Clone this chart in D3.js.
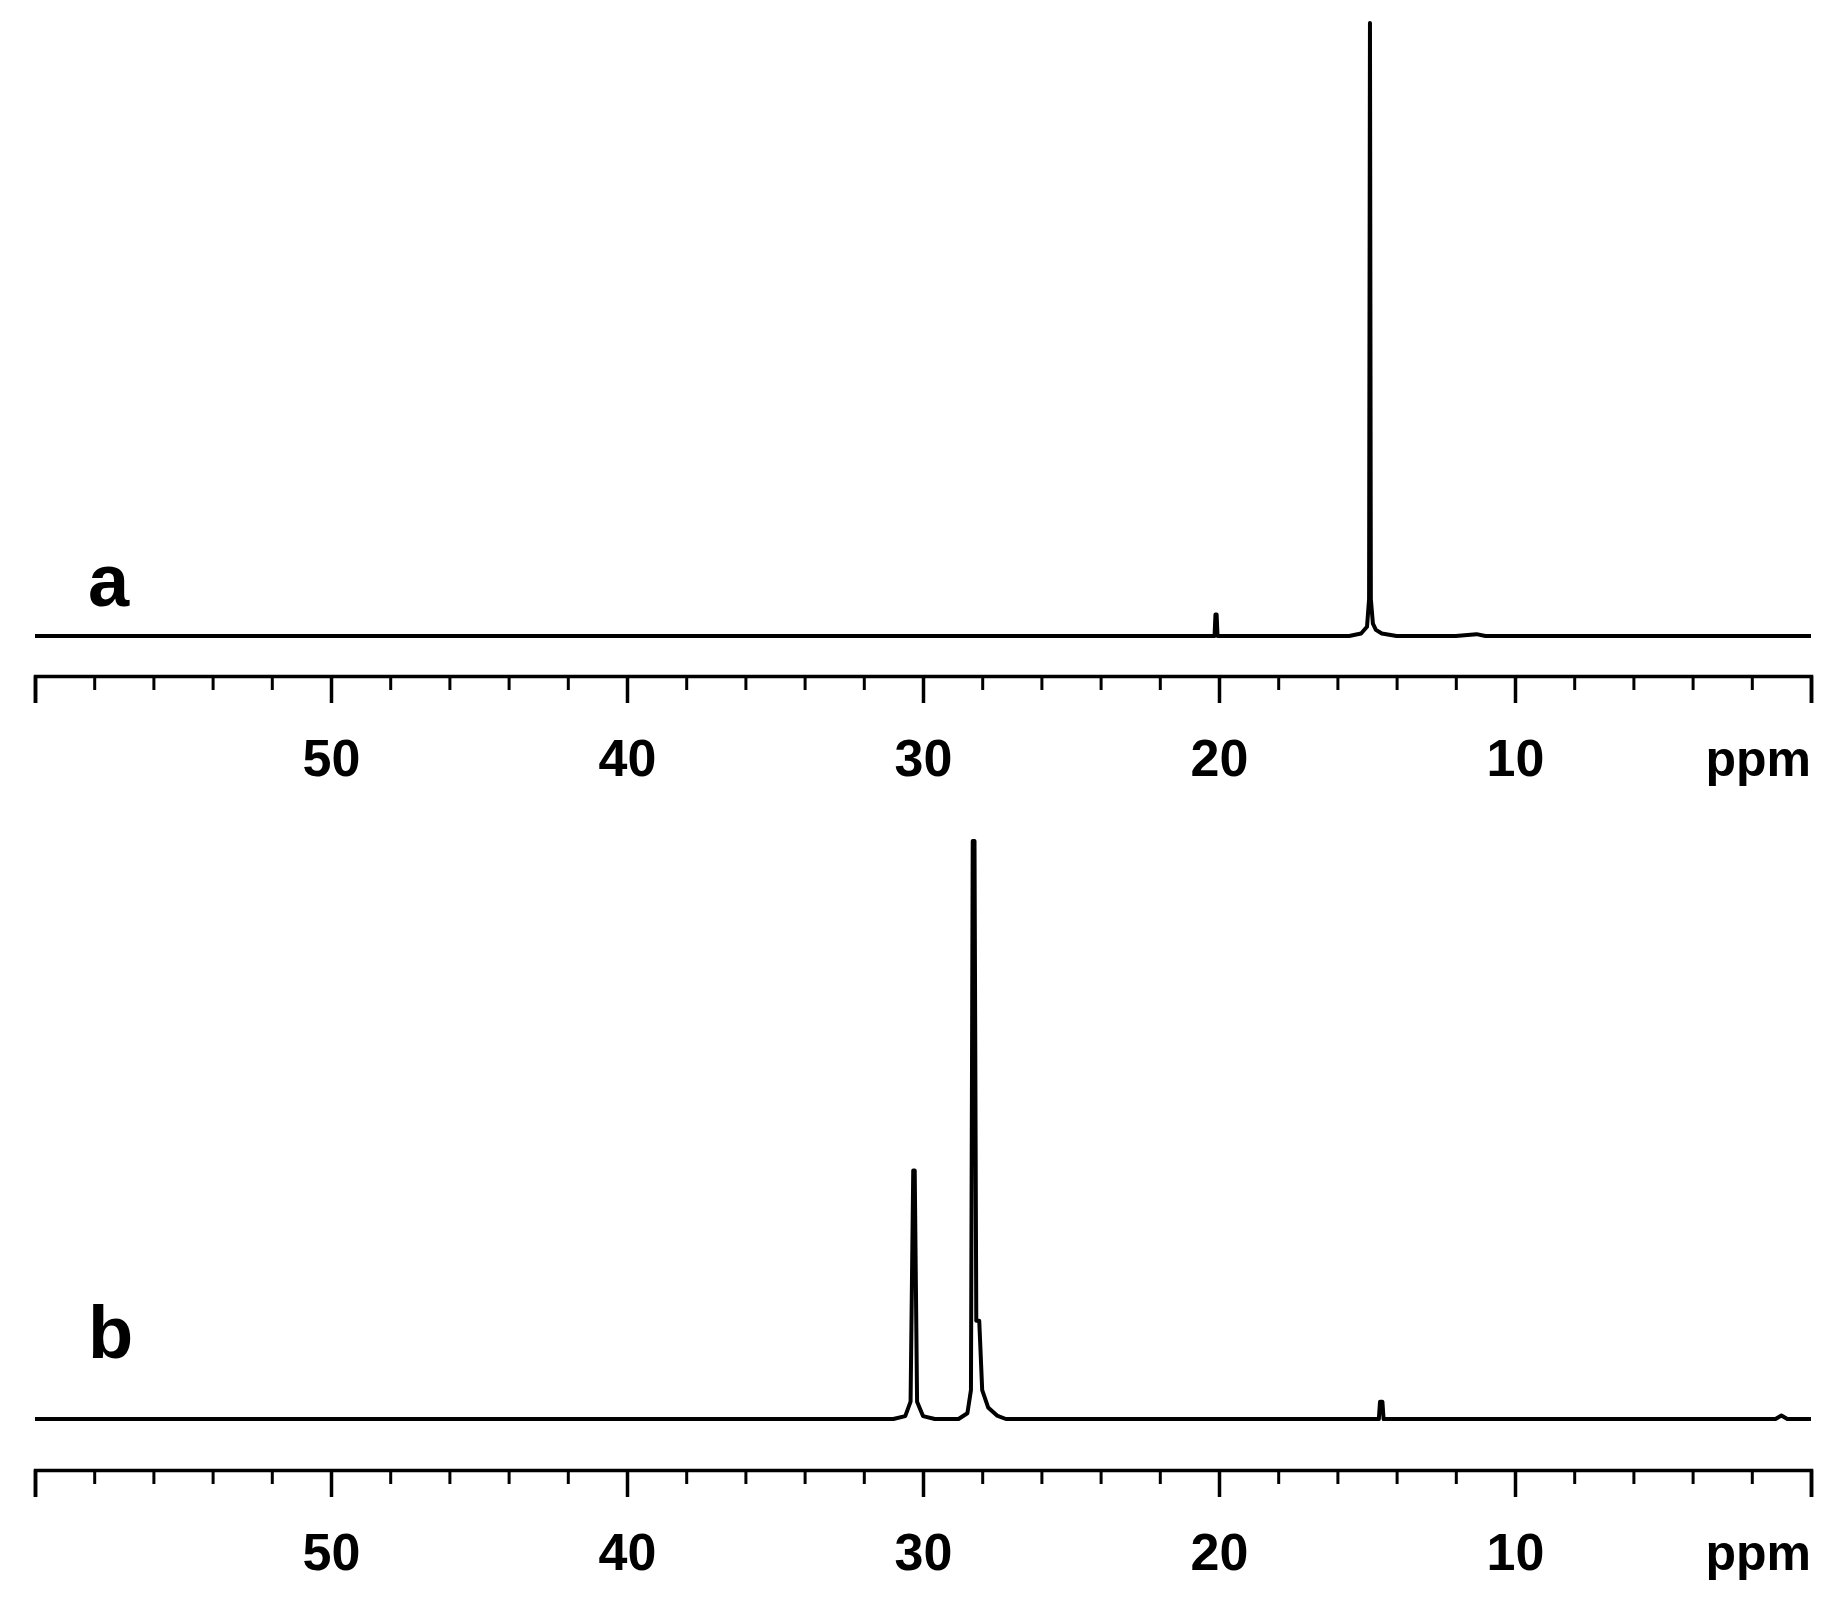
<!DOCTYPE html>
<html><head><meta charset="utf-8">
<script src="https://cdn.jsdelivr.net/npm/d3@7"></script>
<style>body{margin:0;background:#fff}</style></head>
<body><svg id="c" width="1844" height="1619"></svg>
<script>
const panelLabels = ["a","b"];
const majorTicks = [60,50,40,30,20,10,0];
const labeledTicks = [50,40,30,20,10];
const minorTicks = [58,56,54,52,48,46,44,42,38,36,34,32,28,26,24,22,18,16,14,12,8,6,4,2];
const ppmA = [60,20.3,20.15,20.12,20.08,20.05,15.6,15.2,15.0,14.93,14.9,14.87,14.8,14.7,14.5,14.0,12,11.3,11,0];
const intA = [0,0,0,3.5,3.5,0,0,0.4,1.5,6,100,6,2,1,0.4,0,0,0.3,0,0];
const ppmB = [60,31,30.6,30.42,30.33,30.28,30.2,30.0,29.6,28.8,28.5,28.38,28.32,28.26,28.2,28.1,28.0,27.8,27.5,27.2,21,14.6,14.56,14.48,14.44,1.2,1.0,0.8,0];
const intB = [0,0,0.5,3,43,43,3,0.5,0,0,1,5,100,100,17,17,5,2,0.6,0,0,0,3,3,0,0,0.6,0,0];

const svg = d3.select("#c");
const x = d3.scaleLinear().domain([60,0]).range([35,1811]);
const panels = [
  {lab:panelLabels[0], ppm:ppmA, val:intA, base:636, top:23, axisY:676, labY:606},
  {lab:panelLabels[1], ppm:ppmB, val:intB, base:1419, top:841, axisY:1470, labY:1358}
];
const FONT = "Liberation Sans, Arial, sans-serif";
panels.forEach(p=>{
  const y = d3.scaleLinear().domain([0,100]).range([p.base,p.top]);
  const pts = p.ppm.map((v,i)=>[v,p.val[i]]);
  svg.append("path").datum(pts)
    .attr("d", d3.line().x(d=>x(d[0])).y(d=>y(d[1])))
    .attr("fill","none").attr("stroke","#000").attr("stroke-width",4).attr("stroke-linejoin","round");
  const gMin = svg.append("g").attr("transform",`translate(0,${p.axisY})`)
    .call(d3.axisBottom(x).tickValues(minorTicks).tickSize(14).tickSizeOuter(0).tickFormat(""));
  gMin.select(".domain").remove();
  gMin.selectAll("line").attr("stroke","#000").attr("stroke-width",3);
  const g = svg.append("g").attr("transform",`translate(0,${p.axisY})`)
    .call(d3.axisBottom(x).tickValues(majorTicks).tickSize(27).tickSizeOuter(27).tickPadding(36)
      .tickFormat(d=>labeledTicks.includes(d)?d:""));
  g.select(".domain").attr("stroke","#000").attr("stroke-width",3.5);
  g.selectAll("line").attr("stroke","#000").attr("stroke-width",3.5);
  g.selectAll("text").attr("font-family",FONT)
    .attr("font-weight","bold").attr("font-size",52).attr("fill","#000");
  svg.append("text").attr("x",1811).attr("y",p.axisY+100).attr("text-anchor","end")
    .attr("font-family",FONT).attr("font-weight","bold")
    .attr("font-size",50).text("ppm");
  svg.append("text").attr("x",88).attr("y",p.labY)
    .attr("font-family",FONT).attr("font-weight","bold")
    .attr("font-size",74).text(p.lab);
});
</script></body></html>
